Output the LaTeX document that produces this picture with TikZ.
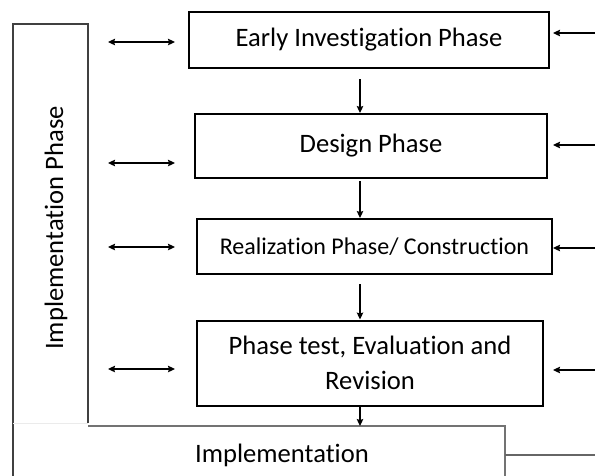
\documentclass[tikz,border=0pt]{standalone}
\usepackage{fontspec}
\setmainfont{Carlito}[Ligatures=NoCommon]
\usetikzlibrary{arrows.meta}
\begin{document}
\begin{tikzpicture}[x=1pt,y=-1pt,
  phasebox/.style={draw=black,line width=2pt,rectangle,inner sep=0pt,font=\fontsize{26.6}{35}\selectfont,align=center},
  arr/.style={-{Stealth[length=7pt,width=6.5pt,inset=1pt]},line width=1.2pt},
  dblarr/.style={{Stealth[length=7pt,width=6.5pt,inset=1pt]}-{Stealth[length=7pt,width=6.5pt,inset=1pt]},line width=1.2pt},
  lbl/.style={font=\fontsize{26.6}{32}\selectfont,inner sep=0pt}]
\useasboundingbox (0,0) rectangle (595,475);
% boxes
\node[phasebox,minimum width=360pt,minimum height=56pt] (b1) at (369,40) {Early Investigation Phase};
\node[phasebox,minimum width=352pt,minimum height=64pt] (b2) at (371,146) {Design Phase};
\node[phasebox,minimum width=355pt,minimum height=55pt,font=\fontsize{24}{29}\selectfont] (b3) at (374.5,246.5) {Realization Phase/ Construction};
\node[phasebox,minimum width=346pt,minimum height=85pt] (b4) at (370,363) {Phase test, Evaluation and\\Revision};
% tall left box
\coordinate (tl) at (13,24);
\coordinate (tr) at (88,24);
\coordinate (br) at (88,423);
\coordinate (bl) at (13,480);
\draw[black!75,line width=1.2pt] (bl) -- (tl) -- (tr) -- (br);
\draw[black!8,line width=1pt] (13,423) -- (br);
\node[lbl,rotate=90] (iph) at (56,228) {Implementation Phase};
% implementation box
\node[lbl] (impl) at (282,455) {Implementation};
\coordinate (it) at (88,426);
\coordinate (itr) at (505,426);
\coordinate (ibr) at (505,480);
\draw[black!55,line width=1.4pt] (it) -- (itr) -- (ibr);
\coordinate (iout) at (505,455);
\coordinate (iend) at (600,455);
\draw[black!60,line width=1.1pt] (iout) -- (iend);
% down arrows
\coordinate (ax) at (360,0);
\draw[arr] ([yshift=-10pt]b1.south -| ax) -- (b2.north -| ax);
\draw[arr] ([yshift=-2pt]b2.south -| ax) -- (b3.north -| ax);
\draw[arr] ([yshift=-9pt]b3.south -| ax) -- (b4.north -| ax);
\coordinate (itop) at (360,426);
\draw[arr] (b4.south -| ax) -- (itop);
% left double arrows
\foreach \y/\n in {42/1,163/2,247/3,369/4}{
  \coordinate (la\n) at (108,\y);
  \coordinate (lb\n) at (175,\y);
  \draw[dblarr] (la\n) -- (lb\n);
}
% right arrows
\foreach \y/\n in {33/1,145/2,248/3,370/4}{
  \coordinate (ra\n) at (600,\y);
  \coordinate (rb\n) at (553,\y);
  \draw[arr] (ra\n) -- (rb\n);
}
\end{tikzpicture}
\end{document}
